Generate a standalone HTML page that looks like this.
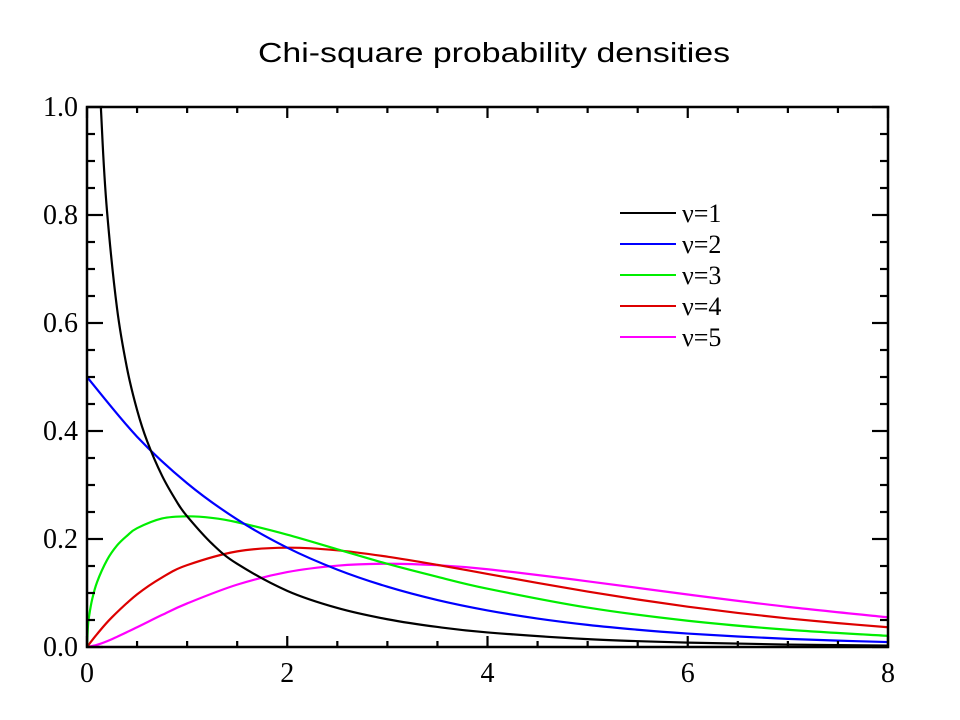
<!DOCTYPE html>
<html><head><meta charset="utf-8"><style>
html,body{margin:0;padding:0;background:#fff;}
svg{display:block;}
</style></head><body>
<svg id="chart" width="960" height="720" viewBox="0 0 960 720">
<text x="494" y="62" text-anchor="middle" font-family="Liberation Sans, sans-serif" font-size="28" textLength="472" lengthAdjust="spacingAndGlyphs">Chi-square probability densities</text>
<defs><clipPath id="plotclip"><rect x="87" y="107" width="801" height="540"/></clipPath></defs>
<g id="series" clip-path="url(#plotclip)"></g>
<g id="axes"></g>
<g id="legend"></g>
</svg>
<script>
const xTicks = [0, 2, 4, 6, 8];
const yTicks = [0.0, 0.2, 0.4, 0.6, 0.8, 1.0];
const yTickLabels = ["0.0", "0.2", "0.4", "0.6", "0.8", "1.0"];
const seriesNames = ["ν=1", "ν=2", "ν=3", "ν=4", "ν=5"];
const seriesColors = ["#000000", "#0000ff", "#00ee00", "#dd0000", "#ff00ff"];
const x1 = [0.05, 0.1, 0.15, 0.2, 0.3, 0.4, 0.5, 0.6, 0.75, 0.9, 1, 1.25, 1.5, 2, 2.5, 3, 3.5, 4, 5, 6, 7, 8];
const y1 = [1.74, 1.200, 0.956, 0.807, 0.627, 0.516, 0.439, 0.3815, 0.317, 0.268, 0.242, 0.191, 0.154, 0.104, 0.0723, 0.0514, 0.0371, 0.0270, 0.0146, 0.0081, 0.00455, 0.00258];
const x2 = [0, 0.5, 1, 1.5, 2, 2.5, 3, 3.5, 4, 4.5, 5, 5.5, 6, 6.5, 7, 7.5, 8];
const y2 = [0.5, 0.3894, 0.3033, 0.2362, 0.1839, 0.1433, 0.1116, 0.0869, 0.0677, 0.0527, 0.0410, 0.0320, 0.0249, 0.0194, 0.0151, 0.0118, 0.00916];
const x3 = [0, 0.01, 0.02, 0.05, 0.1, 0.2, 0.3, 0.4, 0.5, 0.75, 1, 1.25, 1.5, 2, 2.5, 3, 3.5, 4, 5, 6, 7, 8];
const y3 = [0, 0.0397, 0.0559, 0.087, 0.120, 0.161, 0.188, 0.206, 0.220, 0.238, 0.242, 0.239, 0.231, 0.208, 0.181, 0.154, 0.130, 0.108, 0.0730, 0.0486, 0.0319, 0.0206];
const x4 = [0, 0.1, 0.25, 0.5, 0.75, 1, 1.5, 2, 2.5, 3, 3.5, 4, 4.5, 5, 5.5, 6, 6.5, 7, 7.5, 8];
const y4 = [0, 0.0238, 0.0552, 0.0974, 0.1289, 0.1516, 0.1771, 0.1839, 0.1791, 0.1673, 0.1521, 0.1353, 0.1186, 0.1026, 0.0880, 0.0747, 0.0631, 0.0529, 0.0442, 0.0366];
const x5 = [0, 0.1, 0.25, 0.5, 0.75, 1, 1.5, 2, 2.5, 3, 3.5, 4, 5, 6, 7, 8];
const y5 = [0, 0.004, 0.01467, 0.0366, 0.0594, 0.0807, 0.1155, 0.1387, 0.1506, 0.1542, 0.1515, 0.1440, 0.1217, 0.0972, 0.0743, 0.0550];

const NS = "http://www.w3.org/2000/svg";
const X0 = 87, X1 = 888, Y0 = 647, Y1 = 107;
const xMin = 0, xMax = 8, yMin = 0, yMax = 1;
function sx(v){ return X0 + (v - xMin) / (xMax - xMin) * (X1 - X0); }
function sy(v){ return Y0 - (v - yMin) / (yMax - yMin) * (Y0 - Y1); }
function mk(tag, attrs, parent){
  const e = document.createElementNS(NS, tag);
  for (const k in attrs) e.setAttribute(k, attrs[k]);
  parent.appendChild(e); return e;
}
function smoothPath(xs, ys){
  const p = xs.map((x,i)=>[sx(x), sy(ys[i])]);
  let d = "M" + p[0][0] + "," + p[0][1];
  for (let i=0;i<p.length-1;i++){
    const a = p[Math.max(i-1,0)], b = p[i], c = p[i+1], e = p[Math.min(i+2,p.length-1)];
    const c1 = [b[0]+(c[0]-a[0])/6, b[1]+(c[1]-a[1])/6];
    const c2 = [c[0]-(e[0]-b[0])/6, c[1]-(e[1]-b[1])/6];
    d += " C"+c1[0]+","+c1[1]+" "+c2[0]+","+c2[1]+" "+c[0]+","+c[1];
  }
  return d;
}
const sg = document.getElementById("series");
const allX = [x1,x2,x3,x4,x5], allY = [y1,y2,y3,y4,y5];
for (let s=allX.length-1; s>=0; s--){
  const path = mk("path", {d: smoothPath(allX[s], allY[s]), fill:"none", stroke:seriesColors[s], "stroke-width":"2.2"}, sg);
  
  
}
const ax = document.getElementById("axes");
const frame = mk("rect", {x:X0, y:Y1, width:X1-X0, height:Y0-Y1, fill:"none", stroke:"#000", "stroke-width":"2.5"}, ax);


for (let v=0; v<=8.001; v+=0.5){
  const major = Math.abs(v/2 - Math.round(v/2)) < 1e-6;
  const len = major ? 11 : 6;
  const t1 = mk("line", {x1:sx(v), x2:sx(v), y1:Y0, y2:Y0-len, stroke:"#000", "stroke-width":"2.2"}, ax);
  
  
  const t2 = mk("line", {x1:sx(v), x2:sx(v), y1:Y1, y2:Y1+len, stroke:"#000", "stroke-width":"2.2"}, ax);
  
  
}
xTicks.forEach(v=>{
  const t = mk("text", {x:sx(v), y:Y0+35, "text-anchor":"middle", "font-family":"Liberation Serif, serif", "font-size":"28"}, ax);
  t.textContent = String(v);
  
  
});
for (let i=0; i<=20; i++){
  const v = i*0.05;
  const major = i % 4 === 0;
  const len = major ? 16 : 8;
  const t1 = mk("line", {x1:X0, x2:X0+len, y1:sy(v), y2:sy(v), stroke:"#000", "stroke-width":"2.2"}, ax);
  
  
  const t2 = mk("line", {x1:X1, x2:X1-len, y1:sy(v), y2:sy(v), stroke:"#000", "stroke-width":"2.2"}, ax);
  
  
}
yTicks.forEach((v,i)=>{
  const t = mk("text", {x:X0-9, y:sy(v)+9, "text-anchor":"end", "font-family":"Liberation Serif, serif", "font-size":"28"}, ax);
  t.textContent = yTickLabels[i];
  
  
});
const lg = document.getElementById("legend");
seriesNames.forEach((n,i)=>{
  const y = 213 + i*31;
  const l = mk("line", {x1:620, x2:676, y1:y, y2:y, stroke:seriesColors[i], "stroke-width":"2"}, lg);
  
  
  const t = mk("text", {x:682, y:y+9, "font-family":"Liberation Serif, serif", "font-size":"26"}, lg);
  t.textContent = n;
  
  
});
</script>
</body></html>
